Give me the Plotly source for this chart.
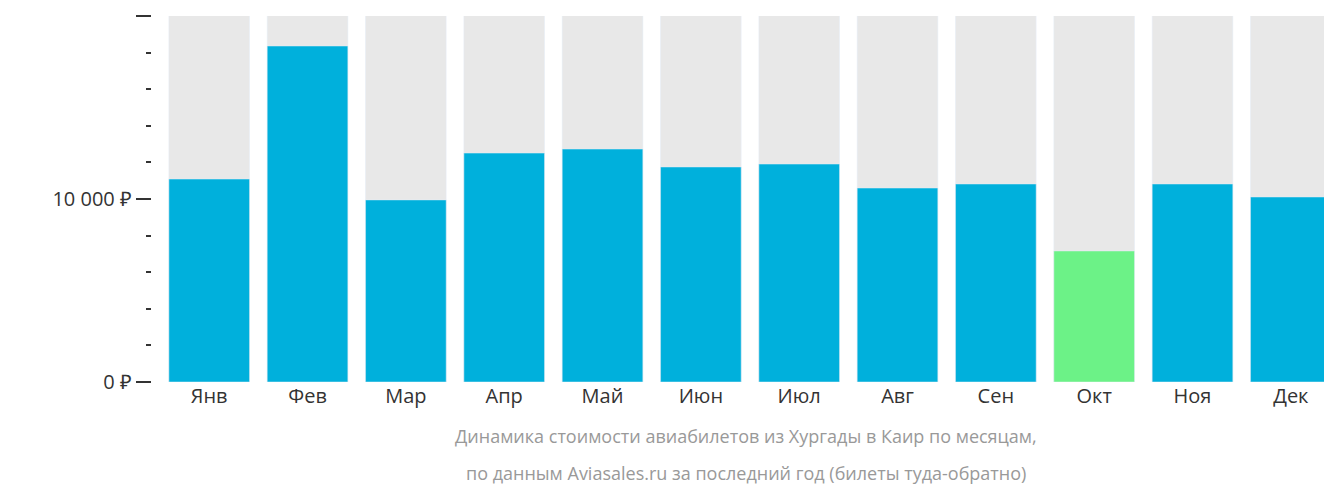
import plotly.graph_objects as go

months = ["Янв","Фев","Мар","Апр","Май","Июн","Июл","Авг","Сен","Окт","Ноя","Дек"]
prices = [11090, 18360, 9950, 12510, 12730, 11750, 11910, 10600, 10820, 7160, 10820, 10110]
colors = ["#00b0dc"]*9 + ["#6cf287"] + ["#00b0dc"]*2
ymax = 20000
background = [20440]*12
tick_vals = [0, 10000, 20000]
tick_text = ["0 ₽", "10 000 ₽", "20 000 ₽"]

fig = go.Figure()
fig.add_bar(x=months, y=background, marker_color="#e8e8e8", hoverinfo="skip", cliponaxis=False)
fig.add_bar(x=months, y=prices, marker_color=colors)
fig.update_layout(
    width=1332, height=502, barmode="overlay", bargap=0.18, showlegend=False,
    margin=dict(l=143, r=0, t=8, b=128),
    plot_bgcolor="white", paper_bgcolor="white",
    font=dict(family="Open Sans", color="#333", size=20),
    xaxis=dict(domain=[0.0076, 1], automargin=False, showline=False, ticks="",
               tickfont=dict(size=20, color="#333")),
    yaxis=dict(range=[0, ymax], anchor="free", position=0, automargin=False, showgrid=False, zeroline=False,
               tickvals=tick_vals, ticktext=tick_text, ticks="outside", ticklen=15,
               tickcolor="#333", tickwidth=2, tickfont=dict(size=20, color="#333"),
               minor=dict(dtick=2000, tick0=0, ticks="outside", ticklen=5, tickcolor="#333", tickwidth=2)),
)
fig.add_annotation(text="Динамика стоимости авиабилетов из Хургады в Каир по месяцам,", x=0.5, xref="paper",
                   y=-68/366, yref="paper", showarrow=False, font=dict(size=18, color="#999"))
fig.add_annotation(text="по данным Aviasales.ru за последний год (билеты туда-обратно)", x=0.5, xref="paper",
                   y=-105/366, yref="paper", showarrow=False, font=dict(size=18, color="#999"))
fig.write_html("out.html")
